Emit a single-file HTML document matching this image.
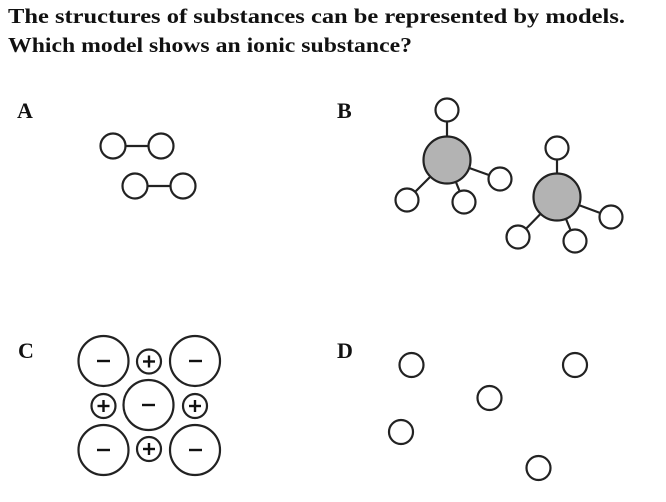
<!DOCTYPE html>
<html><head><meta charset="utf-8"><style>
html,body{margin:0;padding:0;background:#fff;width:666px;height:502px;overflow:hidden}
</style></head><body>
<svg width="666" height="502" style="position:absolute;left:0;top:0" xmlns="http://www.w3.org/2000/svg">
<g font-family="Liberation Serif,serif" font-weight="bold" font-size="21" fill="#111">
<text x="8" y="23" textLength="617" lengthAdjust="spacingAndGlyphs">The structures of substances can be represented by models.</text>
<text x="8" y="52" textLength="404" lengthAdjust="spacingAndGlyphs">Which model shows an ionic substance?</text>
</g>
<g font-family="Liberation Serif,serif" font-weight="bold" font-size="22" fill="#111">
<text x="17" y="118">A</text><text x="337" y="118">B</text>
<text x="18" y="358">C</text><text x="337" y="358">D</text>
</g>
<g stroke="#222" stroke-width="2.2" fill="#fff">
<line x1="113" y1="146" x2="161" y2="146"/><line x1="135" y1="186" x2="183" y2="186"/>
<circle cx="113" cy="146" r="12.5"/><circle cx="161" cy="146" r="12.5"/>
<circle cx="135" cy="186" r="12.5"/><circle cx="183" cy="186" r="12.5"/>
<line x1="447" y1="160" x2="447" y2="110"/><line x1="447" y1="160" x2="500" y2="179"/>
<line x1="447" y1="160" x2="407" y2="200"/><line x1="447" y1="160" x2="464" y2="202"/>
<line x1="557" y1="197" x2="557" y2="148"/><line x1="557" y1="197" x2="611" y2="217"/>
<line x1="557" y1="197" x2="518" y2="237"/><line x1="557" y1="197" x2="575" y2="241"/>
<circle cx="447" cy="160" r="23.5" fill="#b3b3b3"/>
<circle cx="557" cy="197" r="23.5" fill="#b3b3b3"/>
<circle cx="447" cy="110" r="11.5"/><circle cx="500" cy="179" r="11.5"/>
<circle cx="407" cy="200" r="11.5"/><circle cx="464" cy="202" r="11.5"/>
<circle cx="557" cy="148" r="11.5"/><circle cx="611" cy="217" r="11.5"/>
<circle cx="518" cy="237" r="11.5"/><circle cx="575" cy="241" r="11.5"/>
<circle cx="103.5" cy="361" r="25"/><circle cx="195" cy="361" r="25"/>
<circle cx="148.5" cy="405" r="25"/><circle cx="103.5" cy="450" r="25"/><circle cx="195" cy="450" r="25"/>
<circle cx="149" cy="361.5" r="12"/><circle cx="103.5" cy="406" r="12"/>
<circle cx="195" cy="406" r="12"/><circle cx="149" cy="449" r="12"/>
<circle cx="411.5" cy="365" r="12"/><circle cx="575" cy="365" r="12"/>
<circle cx="489.5" cy="398" r="12"/><circle cx="401" cy="432" r="12"/><circle cx="538.5" cy="468" r="12"/>
</g>
<g stroke="#111" stroke-width="2.4">
<line x1="97" y1="361" x2="110" y2="361"/><line x1="189" y1="361" x2="202" y2="361"/>
<line x1="142" y1="405" x2="155" y2="405"/><line x1="97" y1="450" x2="110" y2="450"/><line x1="189" y1="450" x2="202" y2="450"/>
<line x1="143" y1="361.5" x2="155" y2="361.5"/><line x1="149" y1="355.5" x2="149" y2="367.5"/>
<line x1="97.5" y1="406" x2="109.5" y2="406"/><line x1="103.5" y1="400" x2="103.5" y2="412"/>
<line x1="189" y1="406" x2="201" y2="406"/><line x1="195" y1="400" x2="195" y2="412"/>
<line x1="143" y1="449" x2="155" y2="449"/><line x1="149" y1="443" x2="149" y2="455"/>
</g>
</svg>
</body></html>
